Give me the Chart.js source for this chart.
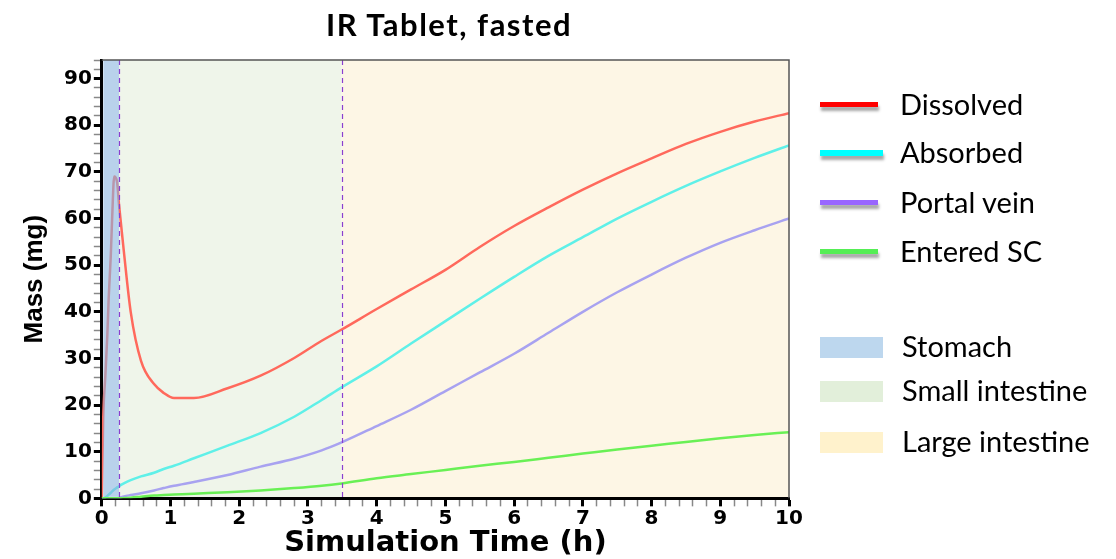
<!DOCTYPE html>
<html>
<head>
<meta charset="utf-8">
<script src="https://cdn.jsdelivr.net/npm/chart.js@4.4.0/dist/chart.umd.min.js"></script>
<style>
  body { margin: 0; background: #fff; }
  #wrap { position: relative; width: 1116px; height: 559px; overflow: hidden; }
  #wrap canvas { position: absolute; left: 0; top: 0; }
  .title { position: absolute; left: 0; top: 5px; width: 898px; text-align: center; font: bold 31px Lato; letter-spacing: 1.5px; color: #000; }
  .item { position: absolute; font: 29px Lato; color: #000; line-height: 30px; white-space: nowrap; }
  .swatch { position: absolute; }
</style>
</head>
<body>
<div id="wrap">
  <canvas id="massChart" width="1116" height="559"></canvas>
  <div class="title">IR Tablet, fasted</div>
</div>
<script>
// time points (h)
var times = [0, 0.02, 0.05, 0.08, 0.1, 0.13, 0.15, 0.18, 0.22, 0.25, 0.32, 0.42, 0.57, 0.76, 0.9, 1.05, 1.34, 1.83, 2.31, 2.8, 3.2, 3.49,
             4, 4.5, 5, 5.5, 6, 6.5, 7, 7.5, 8, 8.5, 9, 9.5, 10];
// mass (mg)
var dissolved = [0, 17, 26, 35, 43, 52, 60, 69, 68, 63, 53, 40, 29.5, 24.5, 22.6, 21.5, 21.5, 23.6, 26.3, 30.1, 33.8, 36.2,
                 40.6, 44.8, 49, 53.9, 58.4, 62.4, 66.2, 69.7, 72.9, 76, 78.6, 80.8, 82.6];
var absorbed = [0, 0, 0.2, 0.5, 0.8, 1.2, 1.5, 1.9, 2.3, 2.6, 3.2, 3.9, 4.7, 5.5, 6.3, 7.0, 8.6, 11.3, 14.0, 17.5, 21.1, 23.8,
                28.3, 33.2, 38, 42.8, 47.5, 52, 56, 60, 63.6, 67, 70.1, 73, 75.7];
var portalVein = [0, 0, 0, 0, 0, 0, 0, 0, 0, 0.1, 0.4, 0.7, 1.1, 1.7, 2.2, 2.7, 3.5, 5.0, 6.8, 8.5, 10.3, 12,
                  15.5, 19, 23, 27, 31, 35.5, 40, 44.2, 48, 51.6, 54.8, 57.5, 60];
var enteredSC = [0, 0, 0, 0, 0, 0, 0, 0, 0, 0, 0.05, 0.15, 0.35, 0.6, 0.7, 0.8, 1.0, 1.3, 1.7, 2.2, 2.7, 3.2,
                 4.3, 5.2, 6.1, 7, 7.8, 8.7, 9.6, 10.5, 11.3, 12.1, 12.9, 13.6, 14.2];

var seriesNames = ['Dissolved', 'Absorbed', 'Portal vein', 'Entered SC'];
var regionNames = ['Stomach', 'Small intestine', 'Large intestine'];
var regionEdges = [0, 0.25, 3.49, 10];

var lineColors = ['rgb(255,105,92)', 'rgb(95,240,232)', 'rgb(168,162,240)', 'rgb(105,240,85)'];
var legendLineColors = ['#ff0000', '#00ffff', '#9966ff', '#55ee55'];
var regionColors = ['rgba(138,180,222,0.6)', 'rgb(239,245,234)', 'rgb(253,246,229)'];
var legendBoxColors = ['#bdd7ee', '#e2efda', '#fff2cc'];

function pts(values) {
  return times.map(function (t, i) { return { x: t, y: values[i] }; });
}

var allSeries = [dissolved, absorbed, portalVein, enteredSC];
var datasets = allSeries.map(function (vals, i) {
  return {
    label: seriesNames[i],
    data: pts(vals),
    borderColor: lineColors[i],
    borderWidth: 2.5,
    pointRadius: 0,
    cubicInterpolationMode: 'monotone',
    fill: false
  };
}).reverse();

function isMajor(v) {
  return Math.abs(v - Math.round(v)) < 1e-6;
}

var bandPlugin = {
  id: 'bands',
  beforeDraw: function (chart) {
    var ctx = chart.ctx, a = chart.chartArea, x = chart.scales.x;
    ctx.save();
    for (var i = 1; i < 3; i++) {
      var x0 = x.getPixelForValue(regionEdges[i]);
      var x1 = x.getPixelForValue(regionEdges[i + 1]);
      ctx.fillStyle = regionColors[i];
      ctx.fillRect(x0, a.top, x1 - x0, a.bottom - a.top);
    }
    ctx.restore();
  },
  afterDatasetsDraw: function (chart) {
    var ctx = chart.ctx, a = chart.chartArea, x = chart.scales.x;
    ctx.save();
    var s0 = x.getPixelForValue(regionEdges[0]) + 1.5;
    var s1 = x.getPixelForValue(regionEdges[1]);
    ctx.fillStyle = regionColors[0];
    ctx.fillRect(s0, a.top, s1 - s0, a.bottom - a.top - 1.5);
    // region dividers
    ctx.strokeStyle = '#8a3fd0';
    ctx.lineWidth = 1.2;
    ctx.setLineDash([5, 4]);
    [regionEdges[1], regionEdges[2]].forEach(function (e) {
      var px = Math.round(x.getPixelForValue(e)) + 0.5;
      ctx.beginPath();
      ctx.moveTo(px, a.top);
      ctx.lineTo(px, a.bottom);
      ctx.stroke();
    });
    // frame top / right
    ctx.setLineDash([]);
    ctx.strokeStyle = '#555';
    ctx.lineWidth = 1.5;
    ctx.beginPath();
    ctx.moveTo(a.left, a.top);
    ctx.lineTo(a.right, a.top);
    ctx.lineTo(a.right, a.bottom);
    ctx.stroke();
    ctx.restore();
  }
};

var tickFont = { family: 'DejaVu Sans', weight: 'bold', size: 20, lineHeight: 1 };

var ctx = document.getElementById('massChart').getContext('2d');
var massChart = new Chart(ctx, {
  type: 'line',
  data: { datasets: datasets },
  options: {
    responsive: false,
    animation: false,
    layout: { padding: { left: 10, top: 60, right: 327, bottom: 3 } },
    plugins: {
      legend: { display: false },
      tooltip: { enabled: false }
    },
    scales: {
      x: {
        type: 'linear',
        min: 0,
        max: 10,
        border: { display: true, color: '#000', width: 3 },
        grid: {
          drawOnChartArea: false,
          drawTicks: true,
          tickLength: 8,
          tickColor: function (c) { return isMajor(c.tick.value) ? '#000' : '#888'; },
          tickWidth: function (c) { return isMajor(c.tick.value) ? 3 : 1.5; }
        },
        ticks: {
          stepSize: 0.2,
          autoSkip: false,
          maxRotation: 0,
          padding: 2,
          color: '#000',
          font: tickFont,
          callback: function (v) { return isMajor(v) ? String(Math.round(v)) : ''; }
        },
        title: {
          display: true,
          text: 'Simulation Time (h)',
          color: '#000',
          font: { family: 'DejaVu Sans', weight: 'bold', size: 29, lineHeight: 0.85 },
          padding: { top: 1, bottom: 0 }
        }
      },
      y: {
        min: 0,
        max: 94,
        border: { display: true, color: '#000', width: 3 },
        grid: {
          drawOnChartArea: false,
          drawTicks: true,
          tickLength: 8,
          tickColor: function (c) { return c.tick.value % 10 === 0 ? '#000' : '#888'; },
          tickWidth: function (c) { return c.tick.value % 10 === 0 ? 3 : 1.5; }
        },
        ticks: {
          stepSize: 2,
          autoSkip: false,
          padding: 2,
          color: '#000',
          font: tickFont,
          callback: function (v) { return v % 10 === 0 ? String(v) : ''; }
        },
        title: {
          display: true,
          text: 'Mass (mg)',
          color: '#000',
          font: { family: 'Liberation Sans', weight: 'bold', size: 26, lineHeight: 1 },
          padding: { top: 12, bottom: 14 }
        }
      }
    }
  },
  plugins: [bandPlugin]
});

// legend on the right
var wrap = document.getElementById('wrap');
var lineRows = [105, 153, 203, 252];
seriesNames.forEach(function (name, i) {
  var sw = document.createElement('div');
  sw.className = 'swatch';
  sw.style.cssText = 'left:820px;top:' + (lineRows[i] - 3) + 'px;width:' + (i === 1 ? 63 : 58) + 'px;height:' + (i === 1 ? 6 : 5) +
    'px;background:' + legendLineColors[i] + ';box-shadow:1px 4px 3px rgba(0,0,0,0.35);';
  wrap.appendChild(sw);
  var t = document.createElement('div');
  t.className = 'item';
  t.style.left = '900px';
  t.style.top = (lineRows[i] - 16) + 'px';
  t.textContent = name;
  wrap.appendChild(t);
});
var boxRows = [347, 391, 442];
regionNames.forEach(function (name, i) {
  var sw = document.createElement('div');
  sw.className = 'swatch';
  sw.style.cssText = 'left:820px;top:' + (boxRows[i] - 10) + 'px;width:63px;height:21px;background:' + legendBoxColors[i] + ';';
  wrap.appendChild(sw);
  var t = document.createElement('div');
  t.className = 'item';
  t.style.left = '902px';
  t.style.top = (boxRows[i] - 16) + 'px';
  t.textContent = name;
  wrap.appendChild(t);
});
</script>
</body>
</html>
